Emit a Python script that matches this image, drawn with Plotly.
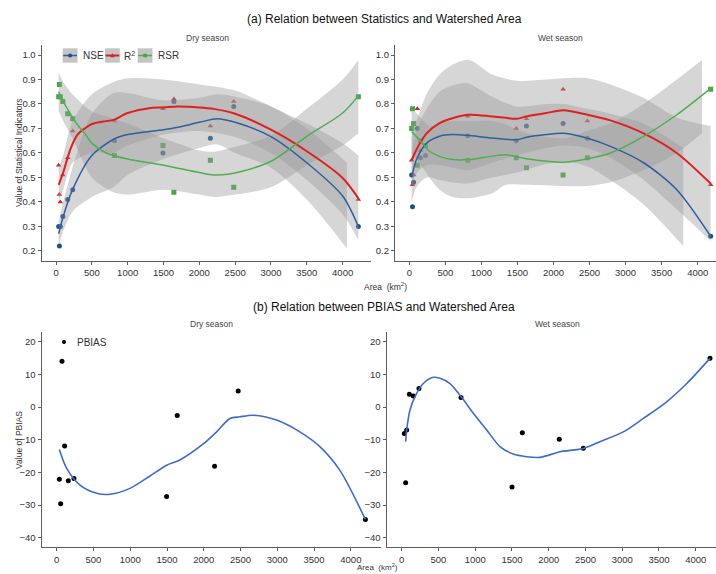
import plotly.graph_objects as go

W, H = 716, 574

# ---------------- Data: (a) statistics, dry season ----------------
dry_area = [37, 47, 60, 95, 163, 233, 816, 1492, 1645, 2154, 2480, 4219]
dry_nse = [0.30, 0.22, 0.30, 0.34, 0.41, 0.45, 0.65, 0.60, 0.81, 0.66, 0.79, 0.30]
dry_r2 = [0.55, 0.43, 0.40, 0.51, 0.58, 0.69, 0.73, 0.78, 0.82, 0.71, 0.81, 0.41]
dry_rsr = [0.83, 0.88, 0.83, 0.81, 0.76, 0.74, 0.59, 0.63, 0.44, 0.57, 0.46, 0.83]

# smoothed curves
dry_nse_fx = [37, 100, 230, 500, 800, 1000, 1500, 1700, 2000, 2250, 2500, 3000, 3500, 4000, 4219]
dry_nse_fy = [0.27, 0.34, 0.45, 0.59, 0.655, 0.675, 0.695, 0.705, 0.725, 0.74, 0.725, 0.667, 0.56, 0.424, 0.30]
dry_r2_fx = [37, 100, 200, 300, 400, 500, 700, 800, 1000, 1300, 1500, 1700, 2000, 2200, 2500, 3000, 3500, 4000, 4219]
dry_r2_fy = [0.47, 0.52, 0.615, 0.675, 0.70, 0.718, 0.73, 0.735, 0.763, 0.783, 0.786, 0.79, 0.786, 0.78, 0.76, 0.695, 0.607, 0.498, 0.415]
dry_rsr_fx = [37, 100, 200, 300, 400, 500, 700, 1000, 1500, 2000, 2200, 2400, 2600, 3000, 3500, 4000, 4219]
dry_rsr_fy = [0.85, 0.81, 0.76, 0.715, 0.68, 0.64, 0.60, 0.575, 0.55, 0.52, 0.51, 0.513, 0.525, 0.566, 0.668, 0.763, 0.833]

# confidence ribbons
dry_nse_bx = [37, 100, 230, 500, 800, 1000, 1500, 2000, 2250, 2500, 3000, 3500, 4060]
dry_nse_lo = [0.22, 0.28, 0.36, 0.42, 0.46, 0.51, 0.575, 0.62, 0.635, 0.60, 0.54, 0.41, 0.21]
dry_nse_hi = [0.32, 0.40, 0.54, 0.76, 0.845, 0.845, 0.815, 0.825, 0.84, 0.83, 0.79, 0.70, 0.56]
dry_r2_bx = [37, 100, 230, 500, 800, 1000, 1500, 2000, 2500, 3000, 3500, 4000, 4219]
dry_r2_lo = [0.40, 0.45, 0.56, 0.60, 0.60, 0.63, 0.675, 0.69, 0.665, 0.60, 0.49, 0.35, 0.245]
dry_r2_hi = [0.54, 0.59, 0.73, 0.84, 0.89, 0.905, 0.90, 0.88, 0.855, 0.79, 0.72, 0.64, 0.59]
dry_rsr_bx = [37, 100, 230, 500, 800, 1000, 1500, 2000, 2200, 2500, 3000, 3500, 4000, 4219]
dry_rsr_lo = [0.77, 0.73, 0.66, 0.50, 0.44, 0.43, 0.45, 0.43, 0.42, 0.43, 0.46, 0.55, 0.63, 0.68]
dry_rsr_hi = [0.93, 0.89, 0.84, 0.77, 0.74, 0.72, 0.66, 0.61, 0.605, 0.625, 0.67, 0.78, 0.90, 0.98]

# ---------------- Data: (a) statistics, wet season ----------------
wet_area = [33, 45, 60, 112, 155, 225, 810, 1484, 1625, 2133, 2470, 4180]
wet_nse = [0.51, 0.38, 0.48, 0.70, 0.58, 0.59, 0.67, 0.65, 0.71, 0.72, 0.66, 0.26]
wet_r2 = [0.57, 0.47, 0.51, 0.78, 0.61, 0.63, 0.75, 0.70, 0.74, 0.86, 0.73, 0.47]
wet_rsr = [0.70, 0.78, 0.72, 0.55, 0.65, 0.63, 0.57, 0.58, 0.54, 0.51, 0.58, 0.86]

wet_nse_fx = [33, 100, 240, 420, 600, 800, 1150, 1490, 1625, 1900, 2140, 2470, 2790, 3250, 3710, 4180]
wet_nse_fy = [0.50, 0.573, 0.64, 0.668, 0.675, 0.672, 0.661, 0.654, 0.664, 0.675, 0.68, 0.66, 0.627, 0.56, 0.45, 0.26]
wet_r2_fx = [33, 111, 240, 420, 600, 830, 1150, 1490, 1625, 1900, 2140, 2470, 2790, 3250, 3710, 4180]
wet_r2_fy = [0.57, 0.62, 0.68, 0.722, 0.742, 0.756, 0.749, 0.74, 0.749, 0.763, 0.774, 0.756, 0.733, 0.68, 0.60, 0.475]
wet_rsr_fx = [33, 140, 280, 420, 600, 830, 1150, 1340, 1625, 2140, 2470, 2790, 3250, 3710, 4180]
wet_rsr_fy = [0.688, 0.654, 0.607, 0.586, 0.573, 0.573, 0.587, 0.593, 0.576, 0.562, 0.576, 0.60, 0.668, 0.756, 0.864]

wet_nse_bx = [33, 100, 240, 420, 600, 800, 1150, 1490, 1900, 2140, 2470, 2790, 3250, 3800]
wet_nse_lo = [0.40, 0.46, 0.50, 0.49, 0.48, 0.475, 0.50, 0.52, 0.555, 0.565, 0.545, 0.49, 0.39, 0.22]
wet_nse_hi = [0.60, 0.69, 0.78, 0.85, 0.875, 0.885, 0.83, 0.79, 0.80, 0.80, 0.78, 0.76, 0.72, 0.62]
wet_r2_bx = [33, 111, 240, 420, 600, 830, 1150, 1490, 1900, 2140, 2470, 2790, 3250, 3710, 4180]
wet_r2_lo = [0.47, 0.52, 0.55, 0.55, 0.54, 0.53, 0.56, 0.59, 0.62, 0.63, 0.62, 0.58, 0.49, 0.37, 0.24]
wet_r2_hi = [0.67, 0.74, 0.84, 0.92, 0.96, 0.98, 0.92, 0.895, 0.90, 0.905, 0.905, 0.88, 0.825, 0.745, 0.71]
wet_rsr_bx = [33, 140, 280, 420, 600, 830, 1150, 1340, 1625, 2140, 2470, 2790, 3250, 3710, 4060]
wet_rsr_lo = [0.60, 0.56, 0.50, 0.45, 0.42, 0.415, 0.435, 0.47, 0.47, 0.465, 0.465, 0.48, 0.53, 0.60, 0.68]
wet_rsr_hi = [0.78, 0.75, 0.71, 0.72, 0.73, 0.73, 0.73, 0.715, 0.68, 0.66, 0.69, 0.72, 0.80, 0.90, 0.98]

# ---------------- Data: (b) PBIAS ----------------
pb_dry_area = [36, 54, 72, 108, 158, 235, 1494, 1639, 2147, 2468, 4198]
pb_dry = [-22.1, -29.6, 14.0, -11.9, -22.6, -21.9, -27.4, -2.6, -18.1, 4.9, -34.4]
pb_dry_fx = [36, 136, 317, 543, 724, 996, 1268, 1494, 1675, 1992, 2174, 2355, 2491, 2672, 2989, 3306, 3578, 3849, 4198]
pb_dry_fy = [-13.0, -18.8, -23.9, -26.4, -26.7, -24.9, -21.1, -17.8, -16.2, -11.3, -7.6, -3.5, -3.0, -2.5, -4.0, -7.6, -12.1, -19.3, -34.4]

pb_wet_area = [36, 68, 54, 104, 158, 235, 807, 1501, 1641, 2144, 2471, 4194]
pb_wet = [-8.1, -7.0, -23.2, 3.9, 3.4, 5.7, 2.9, -24.5, -7.9, -9.9, -12.6, 14.9]
pb_wet_fx = [54, 68, 113, 181, 294, 430, 521, 657, 807, 974, 1156, 1337, 1518, 1701, 1882, 2154, 2471, 2698, 3015, 3287, 3605, 3878, 4194]
pb_wet_fy = [-10.6, -7.0, -0.9, 3.2, 7.2, 9.1, 8.8, 7.2, 3.2, -1.9, -7.0, -12.1, -14.4, -15.2, -15.4, -13.7, -12.7, -10.6, -7.6, -3.5, 1.6, 7.2, 14.9]

x_ticks = [0, 500, 1000, 1500, 2000, 2500, 3000, 3500, 4000]
stat_ticks = [0.2, 0.3, 0.4, 0.5, 0.6, 0.7, 0.8, 0.9, 1.0]
pb_ticks = [-40, -30, -20, -10, 0, 10, 20]
series_names = ["NSE", "R<sup>2</sup>", "RSR"]

# ---------------- Styles ----------------
LINE_COL = ["#2f5f9c", "#e01f1f", "#4fae4f"]
PT_COL = ["#1d4f87", "#c8282c", "#43a843"]
SYMB = ["circle", "triangle-up", "square"]
LW = [1.5, 2.0, 1.5]
RIB = "rgba(153,153,153,0.40)"
FONT = "Liberation Sans, Arial, sans-serif"
AX_COL = "#5e5e5e"
TXT_COL = "#333333"


def px(x):
    return x / W


def py(y):
    return 1 - y / H


fig = go.Figure()

panels = {
    "dry": dict(xa="x", ya="y", area=dry_area, pts=[dry_nse, dry_r2, dry_rsr],
                fits=[(dry_nse_fx, dry_nse_fy), (dry_r2_fx, dry_r2_fy), (dry_rsr_fx, dry_rsr_fy)],
                ribs=[(dry_nse_bx, dry_nse_lo, dry_nse_hi), (dry_r2_bx, dry_r2_lo, dry_r2_hi),
                      (dry_rsr_bx, dry_rsr_lo, dry_rsr_hi)]),
    "wet": dict(xa="x2", ya="y2", area=wet_area, pts=[wet_nse, wet_r2, wet_rsr],
                fits=[(wet_nse_fx, wet_nse_fy), (wet_r2_fx, wet_r2_fy), (wet_rsr_fx, wet_rsr_fy)],
                ribs=[(wet_nse_bx, wet_nse_lo, wet_nse_hi), (wet_r2_bx, wet_r2_lo, wet_r2_hi),
                      (wet_rsr_bx, wet_rsr_lo, wet_rsr_hi)]),
}

for key, p in panels.items():
    # points first (they sit under the ribbons)
    for i in range(3):
        fig.add_trace(go.Scatter(x=p["area"], y=p["pts"][i], mode="markers", xaxis=p["xa"], yaxis=p["ya"],
                                 marker=dict(symbol=SYMB[i], size=5, color=PT_COL[i]),
                                 showlegend=False, hoverinfo="skip"))
    for i in range(3):
        bx, lo, hi = p["ribs"][i]
        fig.add_trace(go.Scatter(x=bx, y=hi, mode="lines", line=dict(width=0, shape="spline", smoothing=0.8),
                                 xaxis=p["xa"], yaxis=p["ya"], showlegend=False, hoverinfo="skip"))
        fig.add_trace(go.Scatter(x=bx, y=lo, mode="lines", line=dict(width=0, shape="spline", smoothing=0.8),
                                 fill="tonexty", fillcolor=RIB,
                                 xaxis=p["xa"], yaxis=p["ya"], showlegend=False, hoverinfo="skip"))
    for i in range(3):
        fx, fy = p["fits"][i]
        fig.add_trace(go.Scatter(x=fx, y=fy, mode="lines", xaxis=p["xa"], yaxis=p["ya"],
                                 line=dict(color=LINE_COL[i], width=LW[i], shape="spline", smoothing=0.8),
                                 name=series_names[i], showlegend=False))

# PBIAS panels
for xa, ya, ax_, ay_, fx, fy in [("x3", "y3", pb_dry_area, pb_dry, pb_dry_fx, pb_dry_fy),
                                 ("x4", "y4", pb_wet_area, pb_wet, pb_wet_fx, pb_wet_fy)]:
    fig.add_trace(go.Scatter(x=ax_, y=ay_, mode="markers", xaxis=xa, yaxis=ya,
                             marker=dict(size=5, color="black"), showlegend=False, name="PBIAS"))
    fig.add_trace(go.Scatter(x=fx, y=fy, mode="lines", xaxis=xa, yaxis=ya,
                             line=dict(color="#3e6cc6", width=1.6, shape="spline", smoothing=0.8),
                             showlegend=False))

axis_common = dict(showline=True, linecolor=AX_COL, linewidth=1.3, ticks="outside", ticklen=3,
                   tickcolor=AX_COL, tickwidth=1, showgrid=False, zeroline=False,
                   tickfont=dict(family=FONT, size=9.5, color=TXT_COL))

fig.update_layout(
    width=W, height=H, margin=dict(l=0, r=0, t=0, b=0),
    paper_bgcolor="white", plot_bgcolor="white", showlegend=False,
    xaxis=dict(axis_common, domain=[px(41.7), px(371.3)], range=[-200, 4400], tickvals=x_ticks, anchor="y"),
    yaxis=dict(axis_common, domain=[py(260.7), py(45.2)], range=[0.16, 1.04], tickvals=stat_ticks,
               tickformat=".1f", anchor="x"),
    xaxis2=dict(axis_common, domain=[px(395), 1.0], range=[-198, 4254], tickvals=x_ticks, anchor="y2"),
    yaxis2=dict(axis_common, domain=[py(260.7), py(45.2)], range=[0.16, 1.04], tickvals=stat_ticks,
                tickformat=".1f", anchor="x2"),
    xaxis3=dict(axis_common, domain=[px(41.7), px(381)], range=[-204, 4410], tickvals=x_ticks, anchor="y3"),
    yaxis3=dict(axis_common, domain=[py(547.3), py(331.7)], range=[-42.94, 23.06], tickvals=pb_ticks, anchor="x3"),
    xaxis4=dict(axis_common, domain=[px(386.7), 1.0], range=[-204, 4276], tickvals=x_ticks, anchor="y4"),
    yaxis4=dict(axis_common, domain=[py(547.3), py(331.7)], range=[-42.94, 23.06], tickvals=pb_ticks, anchor="x4"),
)

ann = []


def text(x, y, s, size, color=TXT_COL, xanchor="center", angle=0, yanchor="middle"):
    ann.append(dict(x=px(x), y=py(y), xref="paper", yref="paper", text=s, showarrow=False,
                    xanchor=xanchor, yanchor=yanchor, textangle=angle,
                    font=dict(family=FONT, size=size, color=color)))


text(384, 19, "(a) Relation between Statistics and Watershed Area", 12, "#111111")
text(384, 307, "(b) Relation between PBIAS and Watershed Area", 12, "#111111")
text(207, 38, "Dry season", 8.5, "#444444")
text(560, 38, "Wet season", 8.5, "#444444")
text(211, 324, "Dry season", 8.5, "#444444")
text(557, 324, "Wet season", 8.5, "#444444")
text(362, 286, "Area  (km<sup>2</sup>)", 8.5, TXT_COL, "left")
text(355, 574, "Area  (km<sup>2</sup>)", 8, TXT_COL, "left", 0, "bottom")
text(19, 153, "Value of Statistical Indicators", 8.5, TXT_COL, "center", -90)
text(19, 440, "Value of PBIAS", 8.5, TXT_COL, "center", -90)

# legend (a)
shapes = []
key_x = [62.7, 105.0, 137.7]
lab_x = [81, 122, 156]
ky0, ky1, kyc = 48.3, 62.7, 55.5
for i in range(3):
    x0 = key_x[i]
    x1 = x0 + 14.8
    shapes.append(dict(type="rect", xref="paper", yref="paper", x0=px(x0), x1=px(x1), y0=py(ky1), y1=py(ky0),
                       fillcolor="#c4c4c4", line=dict(width=0), layer="above"))
    shapes.append(dict(type="line", xref="paper", yref="paper", x0=px(x0 + 0.5), x1=px(x1 - 0.5),
                       y0=py(kyc), y1=py(kyc), line=dict(color=LINE_COL[i], width=LW[i]), layer="above"))
    cx = (x0 + x1) / 2
    if i == 0:
        shapes.append(dict(type="circle", xref="paper", yref="paper", x0=px(cx - 2), x1=px(cx + 2),
                           y0=py(kyc + 2), y1=py(kyc - 2), fillcolor=PT_COL[i], line=dict(width=0), layer="above"))
    elif i == 1:
        path = "M %f %f L %f %f L %f %f Z" % (px(cx - 2.3), py(kyc + 1.8), px(cx + 2.3), py(kyc + 1.8),
                                              px(cx), py(kyc - 2.3))
        shapes.append(dict(type="path", xref="paper", yref="paper", path=path, fillcolor=PT_COL[i],
                           line=dict(width=0), layer="above"))
    else:
        shapes.append(dict(type="rect", xref="paper", yref="paper", x0=px(cx - 1.8), x1=px(cx + 1.8),
                           y0=py(kyc + 1.8), y1=py(kyc - 1.8), fillcolor=PT_COL[i], line=dict(width=0), layer="above"))
    text(lab_x[i], kyc, series_names[i], 10, TXT_COL, "left")

# legend (b)
shapes.append(dict(type="circle", xref="paper", yref="paper", x0=px(62), x1=px(66), y0=py(344), y1=py(340),
                   fillcolor="black", line=dict(width=0), layer="above"))
text(75, 342, "PBIAS", 10, TXT_COL, "left")

fig.update_layout(annotations=ann, shapes=shapes)
fig.write_html("out.html", config={"displayModeBar": False},
               post_script="document.body.style.margin='0';document.body.style.overflow='hidden';")
